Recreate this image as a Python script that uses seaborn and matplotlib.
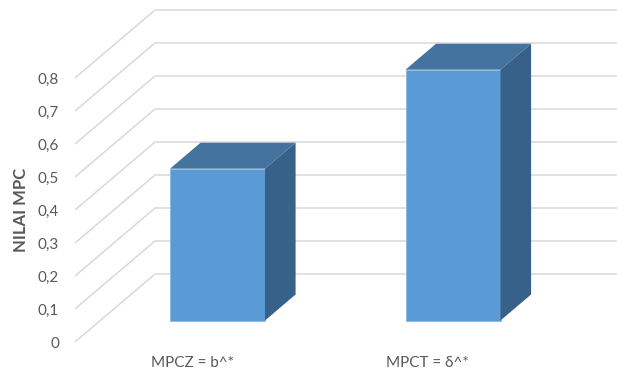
import matplotlib
matplotlib.use("Agg")
import matplotlib.pyplot as plt
from matplotlib.patches import Polygon
import pandas as pd
import seaborn as sns

# --- data -------------------------------------------------------------
categories = ["MPCZ = b^*", "MPCT = δ^*"]
mpc_values = [0.46, 0.76]
tick_values = [0.0, 0.1, 0.2, 0.3, 0.4, 0.5, 0.6, 0.7, 0.8]
tick_labels = ["0", "0,1", "0,2", "0,3", "0,4", "0,5", "0,6", "0,7", "0,8"]
y_title = "NILAI MPC"

# --- style ------------------------------------------------------------
sns.set_style("white")
plt.rcParams["font.family"] = ["Lato", "DejaVu Sans"]

TEXT = "#595959"
GRID = "#D9D9D9"
FRONT = "#5B9BD5"
TOP = "#44739F"
SIDE = "#386189"

W, H, DPI = 617, 376, 100
fig = plt.figure(figsize=(W / DPI, H / DPI), dpi=DPI)
fig.patch.set_facecolor("white")

# plot box: from the front-left corner of the floor to the right border
left_px, bottom_px = 75, 342
ax = fig.add_axes([left_px / W, (H - bottom_px) / H,
                   (W - left_px) / W, bottom_px / H])
ax.set_facecolor("white")

# oblique 3-D projection: pixels per category / per unit value
px_per_cat = 235.5
px_per_unit = 330.0
depth_px = (80.0, 68.0)          # full wall depth (right, up)
t_front = 21.5 / 68.0            # depth of the bar front faces
t_back = t_front + 26.0 / 68.0   # depth of the bar back faces
first_bar_px = 217.5             # centre of the first bar front face


def shift(t):
    """Offset (data units) of depth t relative to the bar front plane."""
    return ((t - t_front) * depth_px[0] / px_per_cat,
            (t - t_front) * depth_px[1] / px_per_unit)


fx, fy = shift(0.0)
bx, by = shift(1.0)
x0 = -(first_bar_px - left_px) / px_per_cat
x1 = x0 + (W - left_px) / px_per_cat
y0 = fy
y1 = y0 + bottom_px / px_per_unit

# side and back walls: gridlines drawn as diagonal + horizontal
for v in tick_values:
    ax.plot([x0, x0 + (bx - fx), x1], [v + fy, v + by, v + by],
            color=GRID, lw=1.1, zorder=0, solid_capstyle="butt")

# bar front faces
df = pd.DataFrame({"kategori": categories, "mpc": mpc_values})
sns.barplot(data=df, x="kategori", y="mpc", ax=ax, color=FRONT,
            saturation=1, width=95 / px_per_cat, errorbar=None,
            edgecolor="#8DB8E3", linewidth=0.6, zorder=2)

# extrude each bar: top and right side faces
ddx = (t_back - t_front) * depth_px[0] / px_per_cat
ddy = (t_back - t_front) * depth_px[1] / px_per_unit
for p in list(ax.patches):
    x, w, h = p.get_x(), p.get_width(), p.get_height()
    ax.add_patch(Polygon([(x, h), (x + w, h), (x + w + ddx, h + ddy),
                          (x + ddx, h + ddy)], closed=True,
                         facecolor=TOP, edgecolor="none", zorder=3))
    ax.add_patch(Polygon([(x + w, 0), (x + w + ddx, ddy),
                          (x + w + ddx, h + ddy), (x + w, h)], closed=True,
                         facecolor=SIDE, edgecolor="none", zorder=3))

ax.set_xlim(x0, x1)
ax.set_ylim(y0, y1)

# axis labels sit on the front plane of the floor/wall
ax.set_xticks([i + fx for i in range(len(categories))], labels=categories)
ax.set_yticks([v + fy for v in tick_values], labels=tick_labels)
ax.tick_params(axis="both", length=0, labelsize=11, labelcolor=TEXT)
ax.tick_params(axis="y", pad=11.5)
ax.tick_params(axis="x", pad=10)
ax.set_xlabel("")
ax.set_ylabel(y_title, fontsize=12, fontweight="bold", color=TEXT,
              va="center")
ax.yaxis.set_label_coords(-(left_px - 20.5) / (W - left_px),
                          (bottom_px - 210) / bottom_px)
sns.despine(ax=ax, left=True, bottom=True)

fig.savefig("out.png", dpi=DPI, facecolor="white")
